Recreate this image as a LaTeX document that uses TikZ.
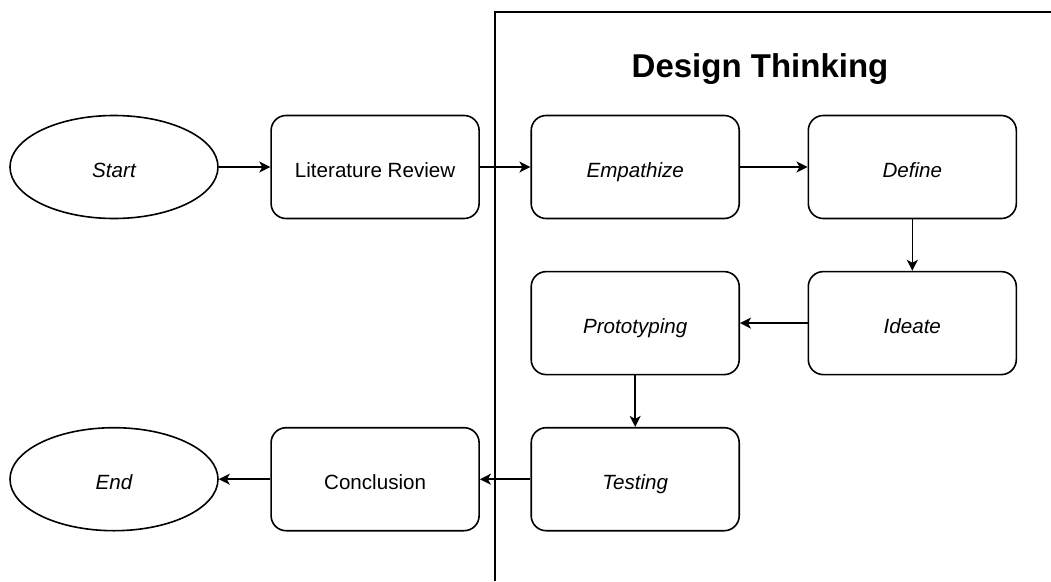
\documentclass[tikz,border=0pt]{standalone}
\usepackage{fontspec}
\setmainfont{Liberation Sans}
\usepackage{tikz}
\usetikzlibrary{positioning,shapes.geometric,arrows.meta}
\tikzset{>={Stealth[length=11pt,width=11pt,inset=3pt]}}
\tikzstyle{arrow}  = [->,
                      line width=1.6pt]
\tikzstyle{stage}  = [draw,
                      line width=1.6pt,
                      rounded corners=15pt,
                      minimum width=208pt,
                      minimum height=103pt,
                      inner sep=0pt,
                      text height=20.8pt,
                      text depth=0pt,
                      font=\fontsize{20.6}{24}\selectfont
                     ]
\tikzstyle{terminal} = [draw,
                        ellipse,
                        line width=1.6pt,
                        minimum width=208pt,
                        minimum height=103pt,
                        inner sep=0pt,
                        text height=20.8pt,
                        text depth=0pt,
                        font=\fontsize{20.6}{24}\selectfont\itshape
                       ]
\tikzstyle{phase}  = [stage,
                      font=\fontsize{20.6}{24}\selectfont\itshape]

\begin{document}
\begin{tikzpicture}[x=1pt,y=-1pt]

  \useasboundingbox (0,0) rectangle (1051,581);

  % Frame
  \coordinate (fbl) at (495,581);
  \coordinate (ftl) at (495,12);
  \coordinate (ftr) at (1051,12);
  \draw[line width=1.6pt] (fbl) -- (ftl) -- (ftr);
  \node[font=\fontsize{33}{40}\selectfont\bfseries] (title) at (760,69) {Design Thinking};

  % Nodes
  \node[terminal] (start) at (114,167) {Start};
  \node[stage, right=51.5pt of start] (lit) {Literature Review};
  \node[phase, right=50.5pt of lit] (emp) {Empathize};
  \node[phase, right=67.5pt of emp] (def) {Define};
  \node[phase, below=51.5pt of def] (ide) {Ideate};
  \node[phase, left=67.5pt of ide] (pro) {Prototyping};
  \node[phase, below=51.5pt of pro] (tes) {Testing};
  \node[stage, left=50.5pt of tes] (con) {Conclusion};
  \node[terminal, left=51.5pt of con] (end) {End};

  % Edges
  \draw[style=arrow] (start) -- (lit);
  \draw[style=arrow] (lit) -- (emp);
  \draw[style=arrow] (emp) -- (def);
  \draw[style=arrow] (def) -- (ide);
  \draw[style=arrow] (ide) -- (pro);
  \draw[style=arrow] (pro) -- (tes);
  \draw[style=arrow] (tes) -- (con);
  \draw[style=arrow] (con) -- (end);

\end{tikzpicture}
\end{document}
